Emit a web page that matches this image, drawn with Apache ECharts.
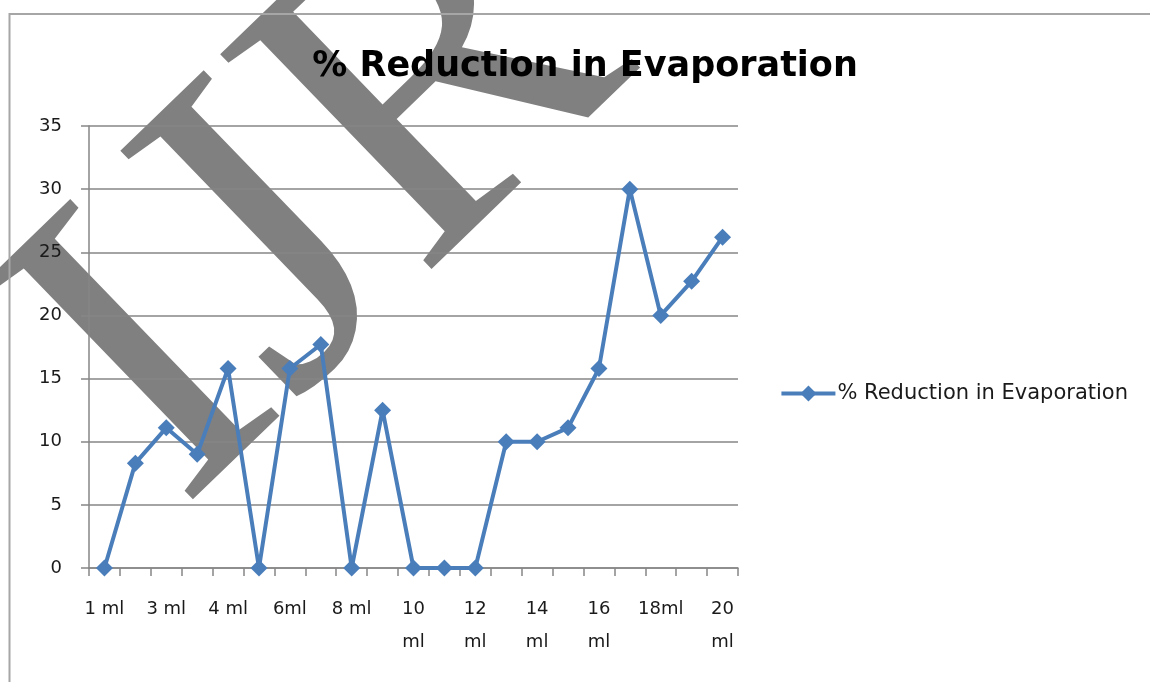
<!DOCTYPE html>
<html>
<head>
<meta charset="utf-8">
<title>% Reduction in Evaporation</title>
<script src="https://cdn.jsdelivr.net/npm/echarts@6/dist/echarts.min.js"></script>
<style>
  html, body { margin: 0; padding: 0; background: #ffffff; }
  #chart { width: 1150px; height: 682px; }
</style>
</head>
<body>
<div id="chart"></div>
<script>
// Dose of additive (category axis)
var categories = ["1 ml", "2 ml", "3 ml", "3.5 ml", "4 ml", "5 ml", "6ml", "7 ml", "8 ml", "9 ml",
                  "10 ml", "11 ml", "12 ml", "13 ml", "14 ml", "15 ml", "16 ml", "17 ml", "18ml", "19 ml", "20 ml"];
// % reduction in evaporation for each dose
var reduction = [0, 8.3, 11.1, 9.0, 15.8, 0, 15.8, 17.7, 0, 12.5,
                 0, 0, 0, 10, 10, 11.1, 15.8, 30, 20, 22.7, 26.2];
var yTicks = { min: 0, max: 35, step: 5 };
var seriesName = "% Reduction in Evaporation";

var FONT = "'DejaVu Sans', sans-serif";
var BLUE = "#4a7ebb";

var chart = echarts.init(document.getElementById("chart"), null, { renderer: "canvas" });

chart.setOption({
  animation: false,
  backgroundColor: "#ffffff",
  title: {
    text: seriesName,
    left: 580,
    top: 44,
    textAlign: "center",
    textStyle: { fontFamily: FONT, fontSize: 35, fontWeight: "bold", color: "#000000" }
  },
  legend: {
    data: [seriesName],
    right: 17,
    top: 378,
    orient: "vertical",
    itemWidth: 54,
    itemHeight: 20,
    itemGap: 4,
    lineStyle: { width: 4, color: BLUE },
    itemStyle: { color: BLUE },
    textStyle: { fontFamily: FONT, fontSize: 21, color: "#1a1a1a", padding: [0, 0, 0, -3] }
  },
  graphic: [
    {
      // chart frame
      type: "rect",
      z: 100,
      shape: { x: 9.5, y: 14, width: 1300, height: 800 },
      style: { fill: null, stroke: "#a6a6a6", lineWidth: 2 }
    },
    {
      // journal mark behind the plot
      type: "text",
      z: -10,
      x: 97,
      y: 424,
      rotation: 0.768,
      style: {
        text: "IJR",
        fontSize: 460,
        fontFamily: "Liberation Serif",
        fill: "#808080",
        align: "left",
        verticalAlign: "middle"
      }
    }
  ],
  grid: { left: 89, right: 412, top: 126, bottom: 114, containLabel: false },
  xAxis: {
    type: "category",
    data: categories,
    boundaryGap: true,
    axisLine: { lineStyle: { color: "#868686", width: 1.5 } },
    axisTick: { show: true, interval: 0, length: 8, lineStyle: { color: "#868686", width: 1.5 } },
    axisLabel: {
      interval: 1,
      margin: 25,
      fontFamily: FONT,
      fontSize: 18,
      lineHeight: 33,
      color: "#1a1a1a",
      formatter: function (name) {
        return name.length > 4 ? name.replace(" ", "\n") : name;
      }
    },
    splitLine: { show: false }
  },
  yAxis: {
    type: "value",
    min: yTicks.min,
    max: yTicks.max,
    interval: yTicks.step,
    axisLine: { show: true, lineStyle: { color: "#868686", width: 1.5 } },
    axisTick: { show: true, length: 8, inside: false, lineStyle: { color: "#868686", width: 1.5 } },
    axisLabel: { margin: 27, fontFamily: FONT, fontSize: 18, color: "#1a1a1a" },
    splitLine: { show: true, lineStyle: { color: "#868686", width: 1.5 } }
  },
  series: [
    {
      name: seriesName,
      type: "line",
      data: reduction,
      symbol: "diamond",
      symbolSize: 17,
      showAllSymbol: true,
      lineStyle: { color: BLUE, width: 4 },
      itemStyle: { color: BLUE },
      z: 5
    }
  ]
});
</script>
</body>
</html>
